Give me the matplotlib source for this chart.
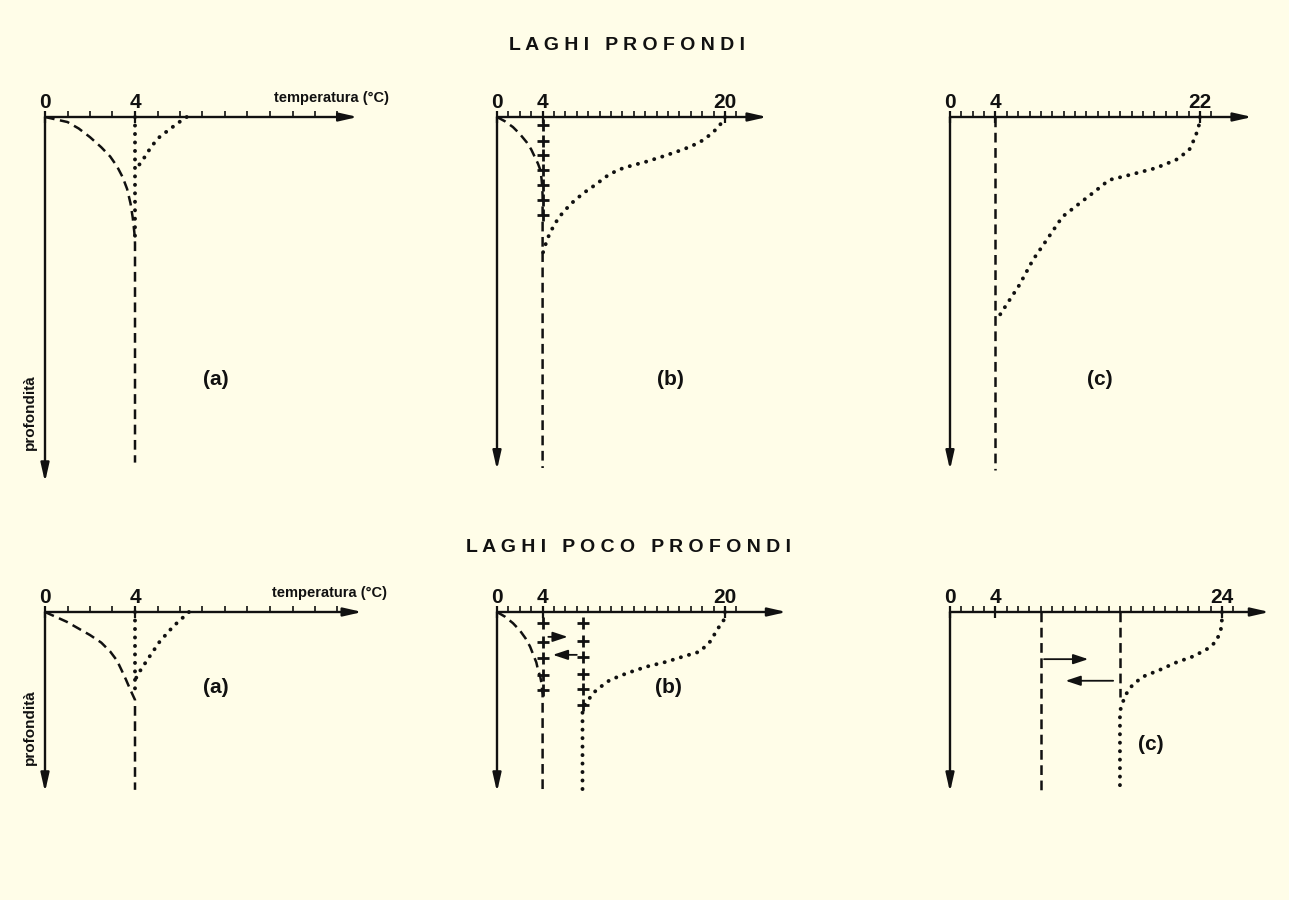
import numpy as np
import matplotlib.pyplot as plt

W, H = 1289, 900
SY = 3.6           # pixels per unit of depth
BG = '#fffde8'
INK = '#111111'

plt.rcParams['font.family'] = ['Liberation Sans', 'DejaVu Sans']
plt.rcParams['lines.scale_dashes'] = False

DASH = (0, (7, 4))
DOT = (0, (0.1, 6))

# ---- deep lakes (top row) ----
ta_dash_t = [0, 1.0, 1.5, 2.0, 2.5, 2.9, 3.2, 3.45, 3.65, 3.8, 3.9, 3.97, 4.0, 4.0]
ta_dash_d = [0, 1.4, 3.2, 5.6, 8.4, 11, 13.7, 16.7, 20, 24, 28, 32, 35, 96]
ta_dot_t = [6.3, 5.9, 5.5, 5.1, 4.75, 4.4, 4.15, 4.0]
ta_dot_d = [0, 1.7, 3.6, 5.5, 8, 11.4, 13.6, 15]
ta_vdot_t = [4, 4]
ta_vdot_d = [0, 35]

tb_dash_t = [0, 0.7, 1.4, 2.0, 2.6, 3.0, 3.3, 3.6, 3.8, 3.9, 3.97, 4.0, 4.0]
tb_dash_d = [0, 1.2, 2.8, 4.7, 7, 9, 11, 13, 14.7, 17, 19.4, 22, 97.5]
tb_dot_t = [20, 19.5, 18.9, 18.1, 17.0, 15.8, 14.5, 13.1, 11.8, 10.6, 9.6, 8.6,
            7.6, 6.7, 5.8, 5.1, 4.6, 4.3, 4.0]
tb_dot_d = [0, 2.5, 4.4, 6.4, 8.2, 9.6, 11.0, 12.4, 13.5, 14.7, 16.5, 18.9,
            21.1, 23.5, 26.4, 29.5, 32.5, 35, 38]
tb_plus_t = [4] * 7
tb_plus_d = [2.2, 6.7, 10.6, 14.7, 18.9, 23.1, 27.2]

tc_dash_t = [4, 4]
tc_dash_d = [0, 98]
tc_dot_t = [22, 21.9, 21.6, 21.05, 19.9, 18.1, 15.8, 14.0, 12.9, 11.4, 9.9,
            8.5, 7.3, 6.1, 5.0, 4.1]
tc_dot_d = [0, 2.5, 5.5, 9.2, 11.9, 14.2, 16.1, 17.5, 20.3, 24, 27.7,
            34.2, 39.7, 46.7, 52, 56.4]

# ---- shallow lakes (bottom row) ----
ba_dash_t = [0, 0.96, 2.0, 2.5, 2.9, 3.2, 3.4, 3.6, 3.8, 4.0, 4.0]
ba_dash_d = [0, 2.7, 6.4, 8.5, 11, 13.5, 16.1, 18.8, 21.7, 24.4, 49.4]
ba_dot_t = [6.4, 5.7, 5.1, 4.6, 4.2, 4.0]
ba_dot_d = [0, 4, 8.2, 12.8, 16.6, 18.9]
ba_vdot_t = [4, 4]
ba_vdot_d = [0, 21.7]

bb_dash_t = [0, 0.7, 1.4, 2.0, 2.5, 2.9, 3.2, 3.45, 3.6, 3.8, 3.9, 4.0, 4.0]
bb_dash_d = [0, 1.3, 3.1, 5.1, 7.3, 9.6, 12, 14, 16.1, 18, 19.8, 23, 49.4]
bb_dot_t = [20, 19.9, 19.4, 18.7, 17.8, 16.3, 14.9, 13.1, 11.4, 9.9, 8.7, 8.0,
            7.6, 7.5, 7.5]
bb_dot_d = [0, 2.2, 4.5, 8.2, 11, 12.4, 13.8, 15.2, 17, 18.9, 21.7, 24.4,
            26.3, 28, 49.4]
bb_plus1_t = [4] * 5
bb_plus1_d = [3.1, 8.3, 12.8, 17.5, 21.7]
bb_plus2_t = [7.5] * 6
bb_plus2_d = [3.1, 8, 12.6, 17.2, 21.4, 25.8]
bb_arrows = [(4.5, 6.2, 6.9), (7.0, 4.9, 11.9)]   # (from T, to T, depth)

bc_dash1_t = [8, 8]
bc_dash1_d = [0, 49.4]
bc_dash2_t = [15, 15]
bc_dash2_d = [0, 23.5]
bc_dot_t = [24, 24, 23.9, 23.5, 22.6, 21.4, 19.9, 18.5, 17, 16.1, 15.5, 15.1,
            15, 15]
bc_dot_d = [0, 2.2, 5, 8.2, 10.5, 12.4, 14.1, 16.1, 18, 20.3, 23, 26.3,
            28, 49.4]
bc_arrows = [(8.3, 12.2, 13.1), (14.4, 10.2, 19.1)]

fig = plt.figure(figsize=(W / 100, H / 100), dpi=100, facecolor=BG)


def panel(ox, oy, sx, t_end, d_end, n_ticks, labels):
    ax = fig.add_axes([ox / W, (H - oy - d_end * SY) / H,
                       t_end * sx / W, d_end * SY / H])
    ax.set_xlim(0, t_end)
    ax.set_ylim(d_end, 0)
    ax.patch.set_visible(False)
    for s in ax.spines.values():
        s.set_visible(False)
    ax.xaxis.tick_top()
    ax.set_xticks(labels)
    ax.set_xticklabels([str(v) for v in labels], fontsize=15,
                       fontweight='bold', color=INK)
    ax.set_xticks(np.arange(1, n_ticks + 1), minor=True)
    ax.tick_params(axis='x', which='major', direction='inout', length=9,
                   width=1.6, pad=-1, colors=INK)
    ax.tick_params(axis='x', which='minor', direction='out', length=4,
                   width=1.2, colors=INK)
    ax.set_yticks([])
    head = dict(arrowstyle='-|>,head_length=1.1,head_width=0.25',
                mutation_scale=10, lw=1.7, color=INK, shrinkA=0, shrinkB=0)
    ax.annotate('', xy=(t_end, 0), xytext=(0, 0), arrowprops=head,
                annotation_clip=False)
    ax.annotate('', xy=(0, d_end), xytext=(0, 0), arrowprops=head,
                annotation_clip=False)
    return ax


def dashed(ax, t, d):
    ax.plot(t, d, color=INK, lw=1.8, ls=DASH, clip_on=False)


def dotted(ax, t, d):
    ax.plot(t, d, color=INK, lw=2.8, ls=DOT, dash_capstyle='round',
            clip_on=False)


def pluses(ax, t, d):
    ax.plot(t, d, ls='none', marker='+', ms=9, mew=2.0, color=INK,
            clip_on=False)


def small_arrows(ax, arrows):
    for t0, t1, d in arrows:
        ax.annotate('', xy=(t1, d), xytext=(t0, d), annotation_clip=False,
                    arrowprops=dict(arrowstyle='-|>,head_length=0.9,head_width=0.3',
                                    mutation_scale=10, lw=1.3, color=INK,
                                    shrinkA=0, shrinkB=0))


def label(ax, t, d, s):
    ax.text(t, d, s, fontsize=15, fontweight='bold', color=INK,
            ha='center', va='center')


def side_texts(ax, t_temp, d_depth):
    ax.text(t_temp, -4.2, 'temperatura (°C)', fontsize=10.5,
            fontweight='bold', color=INK, ha='right', va='baseline')
    ax.text(-0.67, d_depth, 'profondità', fontsize=11, fontweight='bold',
            color=INK, rotation=90, ha='center', va='center')


# top row
ax = panel(45, 117, 22.5, 13.9, 101.4, 13, [0, 4])
dashed(ax, ta_dash_t, ta_dash_d)
dotted(ax, ta_dot_t, ta_dot_d)
dotted(ax, ta_vdot_t, ta_vdot_d)
label(ax, 7.6, 73, '(a)')
side_texts(ax, 15.3, 82)

ax = panel(497, 117, 11.4, 23.7, 98, 21, [0, 4, 20])
dashed(ax, tb_dash_t, tb_dash_d)
dotted(ax, tb_dot_t, tb_dot_d)
pluses(ax, tb_plus_t, tb_plus_d)
label(ax, 15.2, 73, '(b)')

ax = panel(950, 117, 11.36, 26.6, 98, 23, [0, 4, 22])
dashed(ax, tc_dash_t, tc_dash_d)
dotted(ax, tc_dot_t, tc_dot_d)
label(ax, 13.2, 73, '(c)')

# bottom row
ax = panel(45, 612, 22.5, 14.1, 50, 13, [0, 4])
dashed(ax, ba_dash_t, ba_dash_d)
dotted(ax, ba_dot_t, ba_dot_d)
dotted(ax, ba_vdot_t, ba_vdot_d)
label(ax, 7.6, 21.1, '(a)')
side_texts(ax, 15.2, 32)

ax = panel(497, 612, 11.4, 25.4, 50, 21, [0, 4, 20])
dashed(ax, bb_dash_t, bb_dash_d)
dotted(ax, bb_dot_t, bb_dot_d)
pluses(ax, bb_plus1_t, bb_plus1_d)
pluses(ax, bb_plus2_t, bb_plus2_d)
small_arrows(ax, bb_arrows)
label(ax, 15.0, 21.1, '(b)')

ax = panel(950, 612, 11.33, 28.2, 50, 25, [0, 4, 24])
dashed(ax, bc_dash1_t, bc_dash1_d)
dashed(ax, bc_dash2_t, bc_dash2_d)
dotted(ax, bc_dot_t, bc_dot_d)
small_arrows(ax, bc_arrows)
label(ax, 17.7, 36.9, '(c)')

fig.text(627 / W, 1 - 45 / H, 'L A G H I   P R O F O N D I', fontsize=14,
         fontweight='bold', color=INK, ha='center', va='center')
fig.text(628 / W, 1 - 548 / H, 'L A G H I   P O C O   P R O F O N D I',
         fontsize=14, fontweight='bold', color=INK, ha='center', va='center')

fig.savefig('out.png', dpi=100, facecolor=BG)
